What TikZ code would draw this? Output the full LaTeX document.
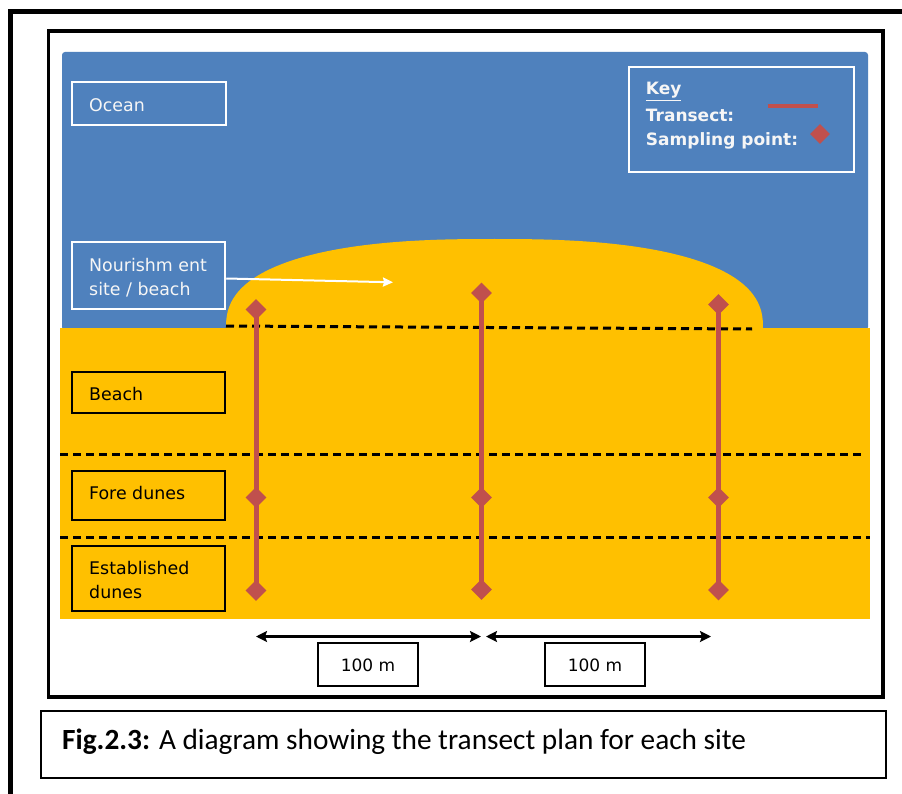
\documentclass[tikz,border=0pt]{standalone}
\usepackage{fontspec}
\setmainfont{DejaVu Sans}
\newfontfamily\capfont{Carlito}
\usetikzlibrary{shapes.geometric,arrows.meta}
\definecolor{ocean}{HTML}{4F81BD}
\definecolor{sand}{HTML}{FFC000}
\definecolor{tred}{HTML}{C0504D}
\definecolor{offwhite}{HTML}{F6F6F6}
\begin{document}
\begin{tikzpicture}[x=1pt,y=-1pt,
  wbox/.style={draw=white, line width=2.5pt, inner sep=0pt},
  bbox/.style={draw=black, line width=2.7pt, inner sep=0pt},
  kbox/.style={draw=black, line width=2pt, inner sep=0pt},
  wtxt/.style={text=offwhite, anchor=base west, inner sep=0pt, font=\fontsize{17.4}{20}\selectfont},
  btxt/.style={text=black, anchor=base west, inner sep=0pt, font=\fontsize{17.4}{20}\selectfont},
  ktxt/.style={text=offwhite, anchor=base west, inner sep=0pt, font=\fontsize{17}{20}\selectfont\bfseries},
  mtxt/.style={text=black, anchor=base, inner sep=0pt, font=\fontsize{17}{20}\selectfont},
  samp/.style={diamond, fill=tred, minimum width=21pt, minimum height=21pt, inner sep=0pt},
  tline/.style={draw=tred, line width=5pt},
  zone/.style={draw=black, line width=3pt, dash pattern=on 8pt off 5pt},
  dimarrow/.style={draw=black, line width=2.5pt, {Stealth[length=11pt,width=11pt,inset=2pt]}-{Stealth[length=11pt,width=11pt,inset=2pt]}}
]
\useasboundingbox (0,0) rectangle (902,794);
\fill[white] (0,0) rectangle (902,794);

% outer frames
\draw[line width=5pt] (10.5,794) -- (10.5,11.5) -- (902,11.5);
\draw[line width=3.5pt] (48.5,31) rectangle (883,697);

% ocean
\fill[ocean, rounded corners=3pt] (62,52) rectangle (868,330);

% nourishment dome (superellipse)
\fill[sand] plot[domain=0:180, samples=121]
  ({494.5+268.5*(cos(\x)<0 ? -1 : 1)*pow(abs(cos(\x))+0.00001,0.8)},
   {329-90*pow(abs(sin(\x))+0.00001,0.8)}) -- cycle;

% beach / dunes
\fill[sand] (60,328) rectangle (869.5,619);

% zone lines
\draw[zone] (226,326) -- (752,329);
\draw[zone] (60,454) -- (862,454);
\draw[zone] (60,537) -- (870,537);

% transects
\coordinate (p11) at (256,309.5);
\coordinate (p12) at (256,497.5);
\coordinate (p13) at (256,590.5);
\coordinate (p21) at (481.5,293);
\coordinate (p22) at (481.5,497.5);
\coordinate (p23) at (481.5,589.5);
\coordinate (p31) at (718.5,304.5);
\coordinate (p32) at (718.5,497.5);
\coordinate (p33) at (718.5,590);
\draw[tline] (p11) -- (p13);
\draw[tline] (p21) -- (p23);
\draw[tline] (p31) -- (p33);
\foreach \t in {1,2,3}{
  \foreach \s in {1,2,3}{
    \node[samp] (d\t\s) at (p\t\s) {};
  }
}

% label boxes in ocean
\node[wbox, minimum width=154pt, minimum height=43pt] (oceanbox) at (149,103.5) {};
\node[wtxt] (oceantxt) at (89,112) {Ocean};
\node[wbox, minimum width=153pt, minimum height=67pt] (nourbox) at (148.5,275.5) {};
\node[wtxt] (nourtxta) at (89,271.7) {Nourishm ent};
\node[wtxt] (nourtxtb) at (89,295.7) {site / beach};
\coordinate (nourtip) at (393,282.3);
\draw[draw=white, line width=2pt, -{Stealth[length=10pt,width=9pt,inset=1pt]}] ([yshift=-3pt]nourbox.east) -- (nourtip);

% key
\node[wbox, minimum width=225pt, minimum height=105pt] (keybox) at (741.5,119.5) {};
\node[ktxt] (keytxt) at (645.7,95) {\underline{Key}};
\node[ktxt] (transtxt) at (645.7,121.7) {Transect:};
\node[ktxt] (samptxt) at (645.7,146) {Sampling point:};
\coordinate (kl1) at (767.7,106.3);
\coordinate (kl2) at (818.3,106.3);
\draw[draw=tred, line width=4pt] (kl1) -- (kl2);
\node[samp, minimum width=20pt, minimum height=20pt] (keysamp) at (820,134) {};

% zone labels
\node[bbox, minimum width=153pt, minimum height=41pt] (beachbox) at (148.5,392.5) {};
\node[btxt] (beachtxt) at (89,400) {Beach};
\node[bbox, minimum width=153pt, minimum height=49pt] (forebox) at (148.5,495.5) {};
\node[btxt] (foretxt) at (89,499.3) {Fore dunes};
\node[bbox, minimum width=153pt, minimum height=65pt] (estbox) at (148.5,578.5) {};
\node[btxt] (esttxta) at (89,574) {Established};
\node[btxt] (esttxtb) at (89,598.3) {dunes};

% distance arrows
\coordinate (a1l) at (256,636.5);
\coordinate (a1r) at (481,636.5);
\coordinate (a2l) at (486,636.5);
\coordinate (a2r) at (711,636.5);
\draw[dimarrow] (a1l) -- (a1r);
\draw[dimarrow] (a2l) -- (a2r);
\node[kbox, minimum width=100pt, minimum height=43pt] (m1box) at (368,664.5) {};
\node[mtxt] (m1txt) at (368,671.7) {100 m};
\node[kbox, minimum width=100pt, minimum height=43pt] (m2box) at (595,664.5) {};
\node[mtxt] (m2txt) at (595,671.7) {100 m};

% caption
\node[draw=black, line width=2pt, inner sep=0pt, minimum width=845pt, minimum height=67pt] (capbox) at (463.5,744.5) {};
\node[anchor=base west, inner sep=0pt, font=\capfont\fontsize{29.3}{32}\selectfont] (captxt) at (62,749.3) {\textbf{Fig.2.3:} A diagram showing the transect plan for each site};
\end{tikzpicture}
\end{document}
